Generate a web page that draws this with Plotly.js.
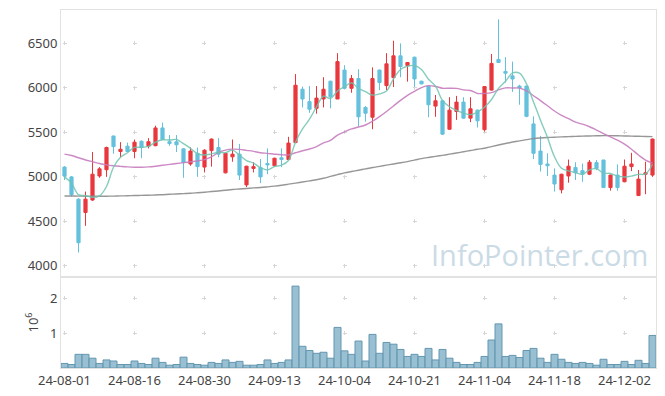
<!DOCTYPE html>
<html>
<head>
<meta charset="utf-8">
<script src="https://cdn.plot.ly/plotly-3.0.1.min.js"></script>
<style>html,body{margin:0;padding:0;background:#fff;}#chart{width:665px;height:396px;}</style>
</head>
<body>
<div id="chart"></div>
<script>
const dates = [
 '24-08-01','24-08-02','24-08-05','24-08-06','24-08-07','24-08-08','24-08-09','24-08-12','24-08-13','24-08-14',
 '24-08-16','24-08-19','24-08-20','24-08-21','24-08-22','24-08-23','24-08-26','24-08-27','24-08-28','24-08-29',
 '24-08-30','24-09-02','24-09-03','24-09-04','24-09-05','24-09-06','24-09-09','24-09-10','24-09-11','24-09-12',
 '24-09-13','24-09-19','24-09-20','24-09-23','24-09-24','24-09-25','24-09-26','24-09-27','24-09-30','24-10-02',
 '24-10-04','24-10-07','24-10-08','24-10-10','24-10-11','24-10-14','24-10-15','24-10-16','24-10-17','24-10-18',
 '24-10-21','24-10-22','24-10-23','24-10-24','24-10-25','24-10-28','24-10-29','24-10-30','24-10-31','24-11-01',
 '24-11-04','24-11-05','24-11-06','24-11-07','24-11-08','24-11-11','24-11-12','24-11-13','24-11-14','24-11-15',
 '24-11-18','24-11-19','24-11-20','24-11-21','24-11-22','24-11-25','24-11-26','24-11-27','24-11-28','24-11-29',
 '24-12-02','24-12-03','24-12-04','24-12-05','24-12-06'
];
const tickLabels = ['24-08-01','24-08-16','24-08-30','24-09-13','24-10-04','24-10-21','24-11-04','24-11-18','24-12-02'];

const openP = [5110,5000,4750,4600,4740,5010,5080,5460,5285,5345,5285,5400,5345,5350,5550,5395,5395,5315,5145,5265,
 5110,5295,5330,5045,5225,5255,4910,5095,5105,5150,5125,5215,5195,5385,5985,5845,5770,5875,6075,5875,
 6200,5995,6105,5780,5670,6200,6025,6115,6360,6250,6345,6075,6020,5795,5855,5535,5735,5840,5660,5750,
 5530,5975,6320,6185,6135,6020,6020,5595,5290,5145,5020,4855,5010,5105,5070,5030,5160,5190,4880,5020,
 4945,5115,4790,5030,5020];
const highP = [5120,5010,4760,4835,5280,5110,5340,5460,5390,5385,5420,5410,5435,5575,5610,5470,5470,5320,5330,5330,
 5310,5430,5435,5270,5420,5370,5125,5165,5200,5320,5215,5320,5450,6155,6015,6020,6020,6120,6080,6390,
 6255,6145,6210,5795,6230,6205,6390,6530,6500,6290,6350,6080,6025,5920,5860,5895,5910,5895,5895,5755,
 6020,6380,6770,6345,6295,6035,6025,5680,5460,5265,5095,5035,5195,5165,5150,5190,5190,5190,5025,5140,
 5195,5270,5077,5170,5430];
const lowP = [4965,4780,4150,4450,4730,4990,5000,5260,5220,5280,5210,5210,5320,5345,5415,5350,5280,4990,5125,5000,
 5050,5115,5220,5040,5170,4965,4885,5050,4930,5030,5120,5110,5190,5380,5780,5720,5710,5780,5770,5875,
 5990,5945,5570,5620,5535,5975,5975,6010,6120,6070,6010,6040,5670,5675,5470,5530,5640,5655,5615,5555,
 5510,5970,6280,6060,5955,5810,5670,5200,5060,5010,4835,4815,4935,4965,4945,5020,5075,4875,4845,4845,
 4940,5065,4785,4805,5000];
const closeP = [5010,4800,4260,4750,5030,5090,5330,5340,5310,5285,5390,5330,5395,5550,5420,5375,5360,5160,5290,5115,
 5300,5425,5255,5265,5255,5020,5120,5115,5000,5135,5210,5195,5380,6030,5875,5760,5885,5985,5900,6295,
 5995,6105,5675,5715,6105,6060,6270,6360,6240,6285,6100,6045,5810,5855,5480,5750,5840,5660,5765,5630,
 6015,6275,6285,6165,6100,6000,5680,5265,5140,5125,4920,5030,5120,5045,5030,5165,5095,4880,5020,4880,
 5120,5145,4975,5045,5425];

const ma5 = [5000,4930,4800,4790,4770,4786,4892,5108,5220,5271,5331,5331,5342,5390,5417,5414,5420,5373,5321,5260,
 5245,5258,5277,5272,5300,5244,5183,5155,5102,5078,5116,5131,5184,5390,5538,5648,5786,5907,5881,5965,
 6012,6056,5994,5957,5919,5932,5965,6102,6207,6243,6251,6206,6096,6019,5858,5788,5747,5717,5699,5729,
 5782,5869,5994,6074,6168,6165,6046,5842,5637,5442,5226,5096,5067,5048,5029,5078,5091,5043,5038,5008,
 4999,5009,5028,5033,5142];
const ma20 = [5255,5240,5215,5190,5170,5150,5135,5125,5118,5112,5108,5108,5112,5120,5130,5140,5150,5160,5170,5180,
 5194,5225,5275,5301,5312,5309,5298,5287,5271,5264,5255,5248,5247,5271,5294,5313,5340,5381,5411,5470,
 5505,5539,5560,5583,5625,5677,5735,5797,5859,5916,5961,6003,6025,6016,5996,5996,5994,5977,5971,5937,
 5938,5947,5977,6000,5999,5997,5967,5912,5857,5799,5740,5690,5655,5615,5592,5563,5526,5487,5449,5412,
 5367,5311,5245,5189,5155];
const maLong = [4785,4785,4784,4783,4782,4782,4783,4784,4786,4788,4790,4792,4794,4797,4800,4804,4808,4812,4816,4822,
 4828,4835,4842,4850,4858,4864,4870,4876,4881,4888,4896,4906,4918,4930,4942,4955,4968,4985,5005,5025,
 5045,5060,5075,5090,5105,5118,5132,5145,5158,5172,5188,5205,5218,5230,5242,5255,5268,5282,5296,5310,
 5322,5340,5358,5375,5392,5405,5418,5430,5437,5442,5446,5450,5452,5455,5458,5460,5462,5463,5463,5462,
 5460,5458,5456,5454,5452];

const volumeMillions = [0.13,0.10,0.39,0.39,0.28,0.13,0.23,0.20,0.10,0.10,0.20,0.13,0.10,0.28,0.16,0.08,0.10,0.31,0.13,0.10,
 0.08,0.16,0.13,0.23,0.16,0.19,0.08,0.08,0.10,0.23,0.13,0.16,0.23,2.34,0.62,0.50,0.42,0.45,0.28,1.16,
 0.49,0.39,0.77,0.20,0.96,0.42,0.73,0.68,0.53,0.33,0.39,0.33,0.56,0.23,0.53,0.28,0.16,0.10,0.10,0.16,
 0.33,0.80,1.26,0.33,0.36,0.30,0.50,0.56,0.28,0.16,0.39,0.25,0.16,0.13,0.16,0.13,0.08,0.25,0.10,0.10,
 0.19,0.10,0.22,0.13,0.93];

const UP = '#e8383d', DOWN = '#64c0dc';
const tickFont = {family: 'Noto Sans, DejaVu Sans, sans-serif', size: 13, color: '#444'};
const lineCol = '#e2e2e2', gridCol = '#d6d6d6';

const traces = [
  {type: 'candlestick', x: dates, open: openP, high: highP, low: lowP, close: closeP,
   xaxis: 'x', yaxis: 'y', whiskerwidth: 0,
   increasing: {line: {color: UP, width: 1}, fillcolor: UP},
   decreasing: {line: {color: DOWN, width: 1}, fillcolor: DOWN},
   hoverinfo: 'skip', showlegend: false},
  {type: 'scatter', mode: 'lines', x: dates, y: maLong, xaxis: 'x', yaxis: 'y',
   line: {color: 'rgba(140,140,140,0.9)', width: 1.4, shape: 'spline'}, showlegend: false},
  {type: 'scatter', mode: 'lines', x: dates, y: ma20, xaxis: 'x', yaxis: 'y',
   line: {color: 'rgba(198,124,190,0.9)', width: 1.4, shape: 'spline'}, showlegend: false},
  {type: 'scatter', mode: 'lines', x: dates, y: ma5, xaxis: 'x', yaxis: 'y',
   line: {color: 'rgba(110,196,178,0.85)', width: 1.4, shape: 'spline'}, showlegend: false},
  {type: 'bar', x: dates, y: volumeMillions, xaxis: 'x2', yaxis: 'y2',
   marker: {color: 'rgba(135,180,202,0.85)', line: {color: '#6497b0', width: 1}}, showlegend: false}
];

const priceFrac = 91/358;
const layout = {
  width: 665, height: 396,
  margin: {l: 61, r: 9, t: 10, b: 28, pad: 0},
  paper_bgcolor: '#fff', plot_bgcolor: '#fff',
  showlegend: false, bargap: 0, boxgap: 0.35,
  xaxis: {type: 'category', range: [-0.5, 84.5], anchor: 'y', rangeslider: {visible: false},
    tickmode: 'array', tickvals: tickLabels, showticklabels: false, ticks: '',
    showgrid: true, gridcolor: gridCol, gridwidth: 1, griddash: '0px,31.375px,4px,9.125px',
    showline: true, mirror: true, linecolor: lineCol, linewidth: 1, zeroline: false},
  xaxis2: {type: 'category', range: [-0.5, 84.5], anchor: 'y2', matches: 'x',
    tickmode: 'array', tickvals: tickLabels, ticktext: tickLabels, tickfont: tickFont, ticks: '',
    showgrid: true, gridcolor: gridCol, gridwidth: 1, griddash: '0px,19px,4px,12px',
    showline: true, mirror: true, linecolor: lineCol, linewidth: 1, zeroline: false},
  yaxis: {domain: [priceFrac, 1], range: [3875, 6875], tickmode: 'linear', tick0: 4000, dtick: 500,
    tickfont: tickFont, ticks: '', showgrid: true, gridcolor: gridCol, gridwidth: 1,
    griddash: '0px,1.5px,4px,64.5px', showline: true, mirror: true, linecolor: lineCol, linewidth: 1,
    zeroline: false, anchor: 'x'},
  yaxis2: {domain: [0, priceFrac], range: [0, 2.6], tickmode: 'array', tickvals: [1, 2], ticktext: ['1', '2'],
    tickfont: tickFont, ticks: '', showgrid: true, gridcolor: gridCol, gridwidth: 1,
    griddash: '0px,1.5px,4px,64.5px', showline: true, mirror: true, linecolor: lineCol, linewidth: 1,
    zeroline: false, anchor: 'x2',
    title: {text: '10<sup>6</sup>', font: tickFont, standoff: 8}},
  annotations: [{text: 'InfoPointer.com', xref: 'paper', yref: 'paper', x: 0.805, y: 0.318,
    xanchor: 'center', yanchor: 'middle', showarrow: false,
    font: {family: 'Open Sans, Noto Sans, sans-serif', size: 29, color: '#cbdbe6'}}]
};

Plotly.newPlot('chart', traces, layout, {staticPlot: true, displayModeBar: false});
</script>
</body>
</html>
